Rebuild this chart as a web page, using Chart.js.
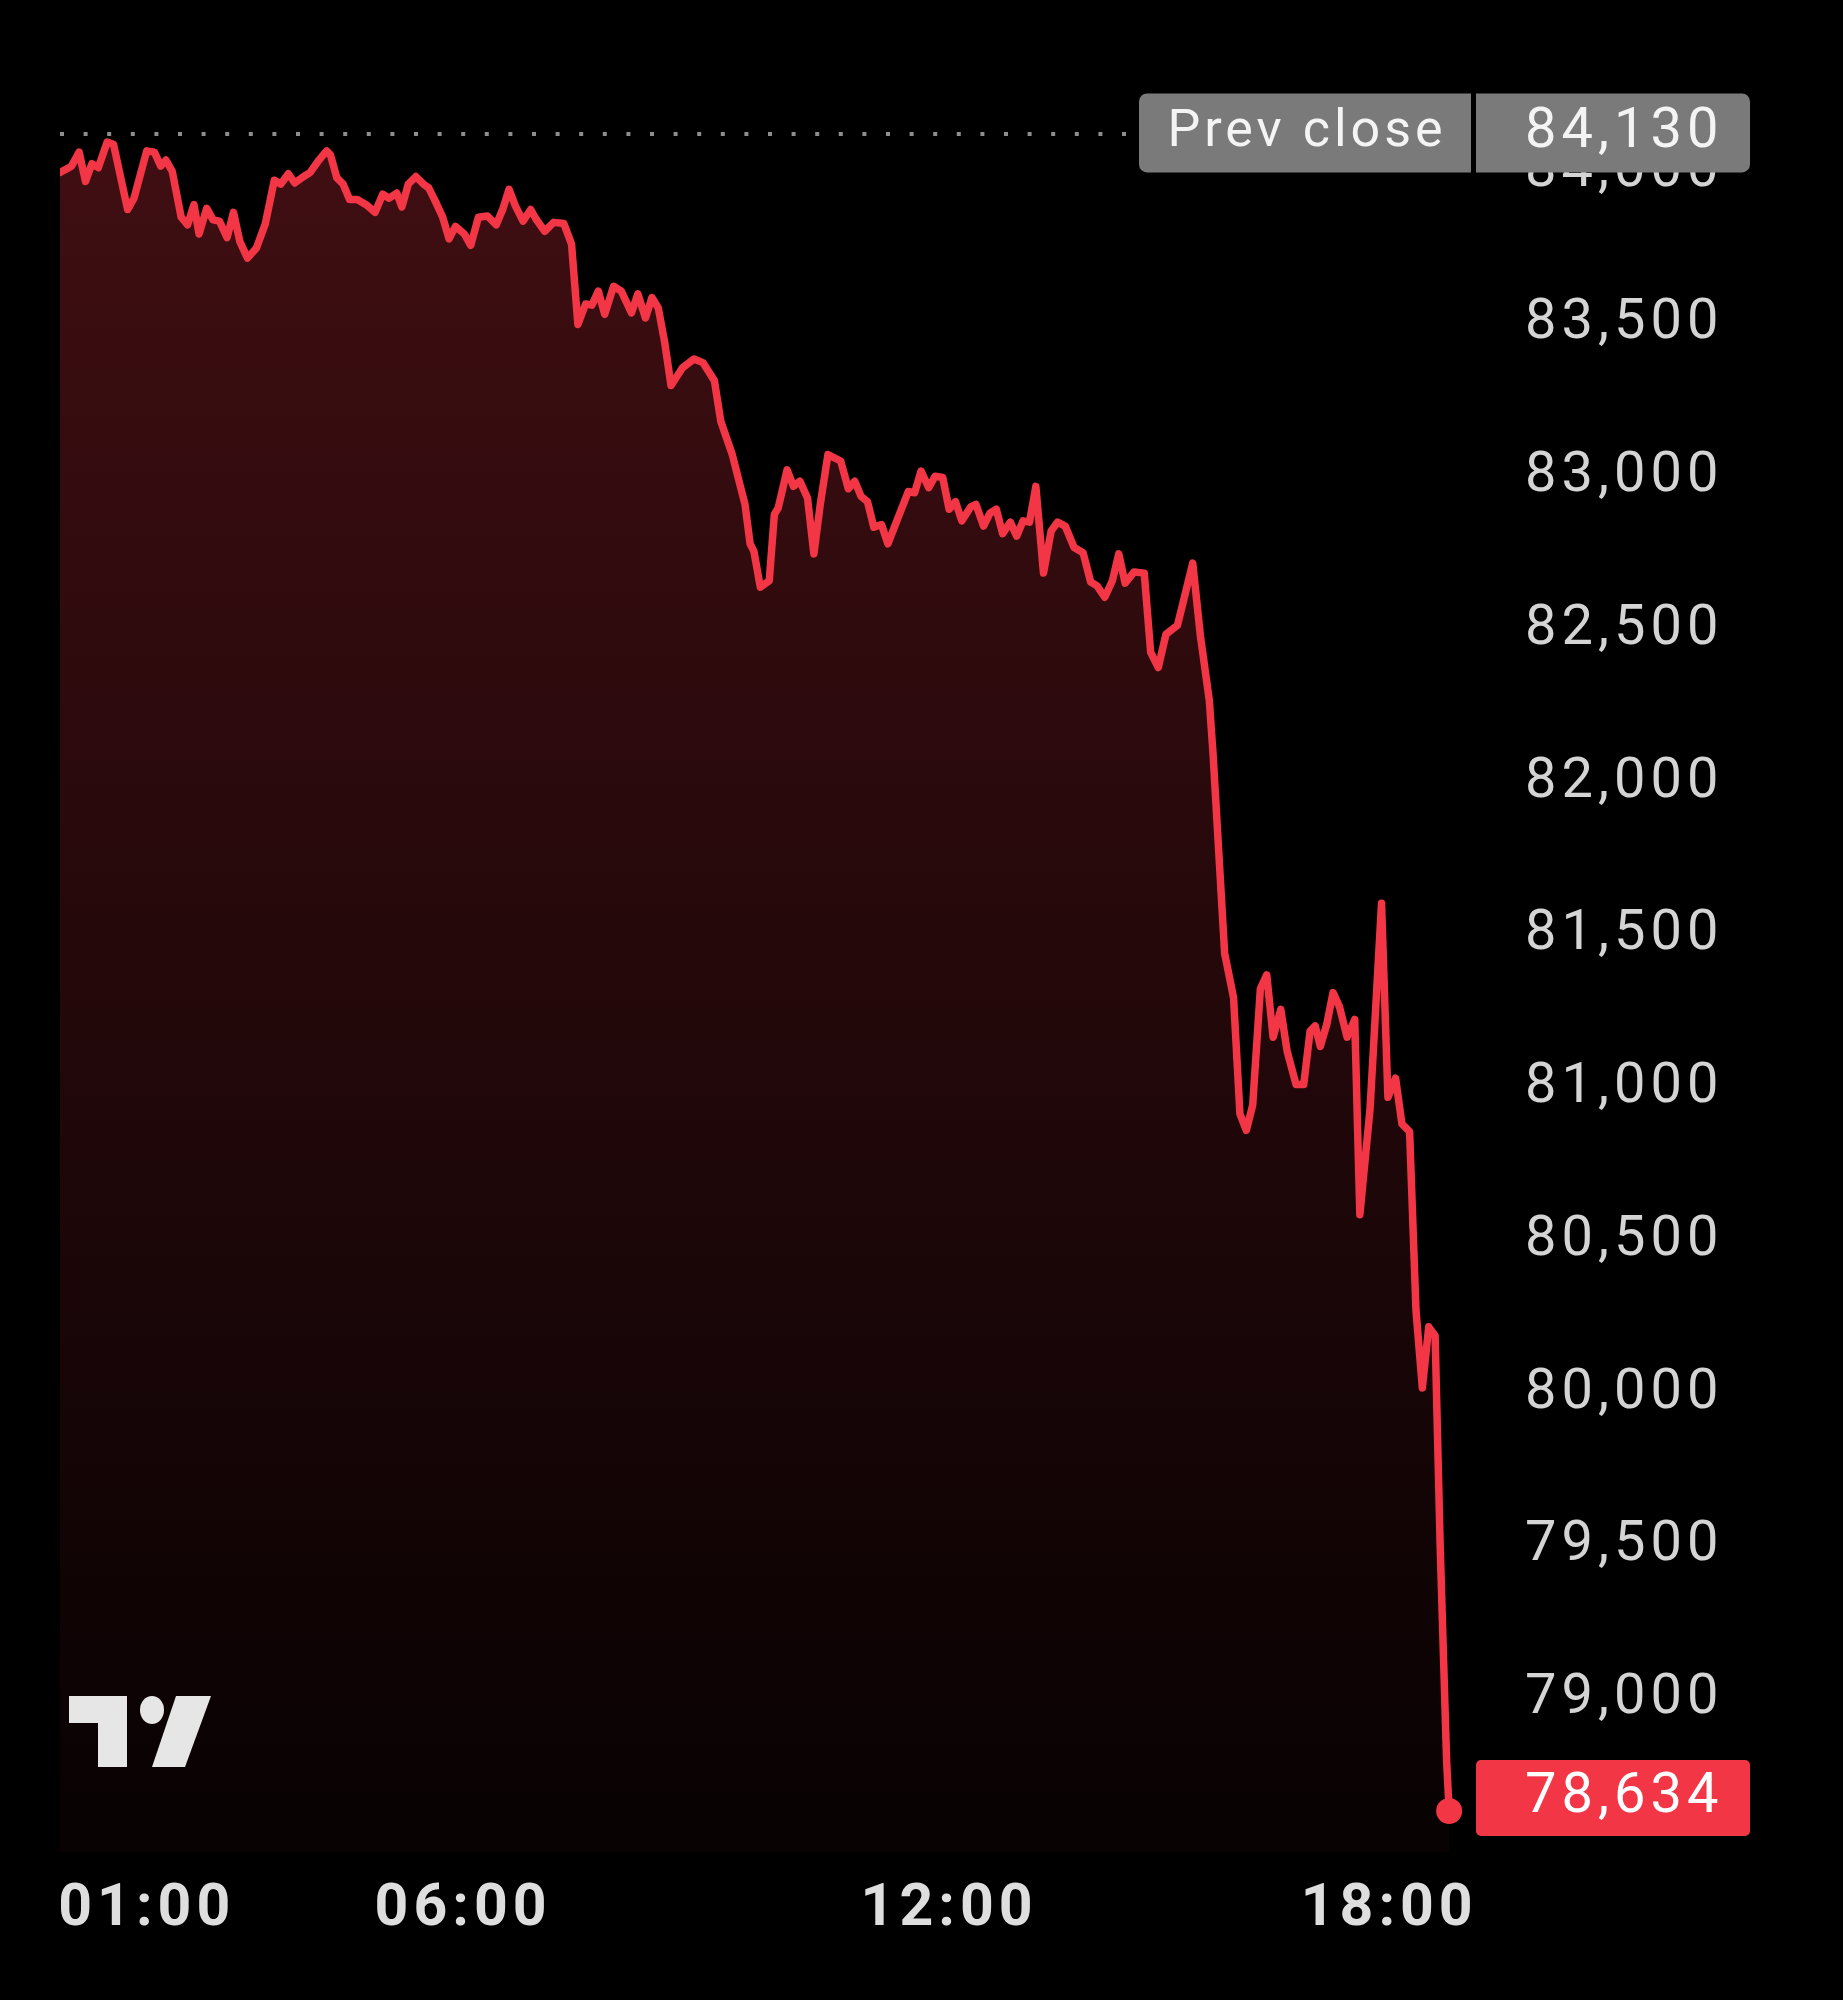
<!DOCTYPE html>
<html>
<head>
<meta charset="utf-8">
<title>Intraday price</title>
<script src="https://cdn.jsdelivr.net/npm/chart.js@4.4.1/dist/chart.umd.min.js"></script>
<style>
  html, body { margin: 0; padding: 0; background: #000; }
  #wrap { width: 1843px; height: 2000px; }
</style>
</head>
<body>
<div id="wrap"><canvas id="priceChart" width="1843" height="2000"></canvas></div>
<script>
// bar position on the time scale (index) and price of each traced vertex
const bars = [
  0, 9, 15, 20, 25, 30, 37, 42, 53, 58, 68, 74, 79, 83, 88, 95, 100, 105, 109, 115,
  120, 125, 131, 136, 141, 147, 154, 161, 168, 173, 179, 184, 191, 196, 203, 209, 212, 217, 222, 227,
  233, 240, 247, 253, 258, 264, 268, 273, 279, 285, 289, 294, 300, 305, 310, 317, 322, 328, 335, 342,
  347, 352, 357, 363, 369, 373, 380, 387, 395, 401, 406, 412, 417, 422, 427, 434, 440, 448, 453, 459,
  464, 469, 474, 479, 488, 497, 504, 513, 518, 527, 537, 541, 544, 549, 556, 560, 563, 570, 575, 580,
  586, 591, 596, 602, 612, 618, 623, 628, 633, 638, 644, 649, 656, 665, 670, 675, 681, 686, 692, 697,
  702, 707, 714, 718, 724, 729, 734, 739, 745, 750, 755, 760, 765, 771, 777, 782, 788, 795, 802, 808,
  813, 819, 825, 830, 835, 842, 850, 855, 861, 867, 876, 888, 894, 901, 904, 913, 920, 925, 930, 935,
  941, 946, 951, 957, 962, 969, 975, 980, 984, 988, 993, 998, 1003, 1009, 1015, 1019, 1027, 1036, 1041, 1047,
  1052, 1058, 1063, 1068, 1073, 1078, 1082, 1087, 1089
];
const prices = [
  83997, 84018, 84064, 83968, 84026, 84013, 84097, 84089, 83876, 83913, 84068, 84064, 84018, 84038, 84001, 83851, 83826, 83892, 83796, 83880,
  83842, 83838, 83784, 83867, 83771, 83717, 83750, 83830, 83972, 83959, 83993, 83963, 83984, 83997, 84038, 84068, 84055, 83980, 83959, 83909,
  83909, 83892, 83867, 83926, 83913, 83930, 83884, 83959, 83984, 83959, 83947, 83905, 83851, 83780, 83821, 83796, 83759, 83851, 83855, 83826,
  83876, 83942, 83888, 83838, 83876, 83846, 83805, 83834, 83830, 83763, 83500, 83567, 83563, 83609, 83533, 83625, 83609, 83538, 83600, 83521,
  83588, 83554, 83442, 83300, 83358, 83387, 83375, 83316, 83183, 83074, 82911, 82782, 82757, 82640, 82661, 82878, 82899, 83024, 82970, 82987,
  82932, 82749, 82911, 83074, 83053, 82962, 82987, 82937, 82920, 82836, 82845, 82782, 82857, 82953, 82949, 83020, 82966, 83003, 82999, 82895,
  82920, 82857, 82903, 82911, 82840, 82882, 82895, 82815, 82853, 82807, 82857, 82853, 82970, 82686, 82824, 82853, 82840, 82770, 82753, 82657,
  82644, 82607, 82661, 82749, 82653, 82690, 82686, 82427, 82377, 82486, 82515, 82719, 82481, 82269, 82089, 81442, 81296, 80916, 80862, 80945,
  81325, 81371, 81167, 81258, 81121, 81012, 81012, 81187, 81204, 81137, 81208, 81313, 81267, 81167, 81225, 80586, 80933, 81605, 80970, 81033,
  80883, 80858, 80273, 80019, 80219, 80190, 79497, 78800, 78634
];

const prevClose = 84130;
const lastPrice = 78634;

const yTicks = [79000, 79500, 80000, 80500, 81000, 81500, 82000, 82500, 83000, 83500, 84000];
const xTickPos = [68, 316, 697, 1042];
const xTickLabels = ['01:00', '06:00', '12:00', '18:00'];

const red = '#f23645';
const fmt = v => v.toLocaleString('en-US');

function areaFill(context) {
  const { ctx, chartArea } = context.chart;
  if (!chartArea) return null;
  const g = ctx.createLinearGradient(0, chartArea.top, 0, chartArea.bottom);
  g.addColorStop(0, 'rgba(242, 54, 69, 0.27)');
  g.addColorStop(1, 'rgba(242, 54, 69, 0.03)');
  return g;
}

// prev close line, price badges and the logo
const overlay = {
  id: 'overlay',
  beforeDraw(chart) {
    chart.ctx.letterSpacing = '5px';
  },
  afterDatasetsDraw(chart) {
    const { ctx, chartArea, scales } = chart;
    const y = Math.round(scales.y.getPixelForValue(prevClose)) + 2;
    ctx.save();
    ctx.strokeStyle = '#8e8e8e';
    ctx.lineWidth = 4;
    ctx.setLineDash([4, 19.6]);
    ctx.beginPath();
    ctx.moveTo(chartArea.left, y);
    ctx.lineTo(chartArea.right - 340, y);
    ctx.stroke();
    ctx.restore();
  },
  afterDraw(chart) {
    const { ctx, chartArea, scales } = chart;
    const r = chartArea.right;
    ctx.save();

    // Prev close badge
    const py = scales.y.getPixelForValue(prevClose) + 1;
    ctx.fillStyle = '#7a7a7a';
    ctx.beginPath();
    ctx.roundRect(r - 328, py - 39.5, 332, 79, [8, 0, 0, 8]);
    ctx.fill();
    ctx.beginPath();
    ctx.roundRect(r + 9, py - 39.5, 274, 79, [0, 8, 8, 0]);
    ctx.fill();
    ctx.fillStyle = '#f4f4f4';
    ctx.textBaseline = 'middle';
    ctx.textAlign = 'center';
    ctx.letterSpacing = '4px';
    ctx.font = '400 52px Roboto';
    ctx.fillText('Prev close', r - 160, py);
    ctx.textAlign = 'left';
    ctx.letterSpacing = '5px';
    ctx.font = '400 56px Roboto';
    ctx.fillText(fmt(prevClose), r + 58, py);

    // last price badge
    const ly = scales.y.getPixelForValue(lastPrice) - 13;
    ctx.fillStyle = red;
    ctx.beginPath();
    ctx.roundRect(r + 9, ly - 38, 274, 76, 5);
    ctx.fill();
    ctx.fillStyle = '#ffffff';
    ctx.fillText(fmt(lastPrice), r + 58, ly);

    // logo
    const lx = chartArea.left + 9, lt = chartArea.bottom - 156;
    ctx.fillStyle = '#e6e6e6';
    ctx.fillRect(lx, lt, 58, 27);
    ctx.fillRect(lx + 29, lt, 29, 71);
    ctx.beginPath();
    ctx.ellipse(lx + 83, lt + 14, 12, 14, 0, 0, Math.PI * 2);
    ctx.fill();
    ctx.beginPath();
    ctx.moveTo(lx + 107, lt);
    ctx.lineTo(lx + 142, lt);
    ctx.lineTo(lx + 116, lt + 71);
    ctx.lineTo(lx + 83, lt + 71);
    ctx.closePath();
    ctx.fill();
    ctx.restore();
  }
};

new Chart(document.getElementById('priceChart'), {
  type: 'line',
  data: {
    datasets: [{
      data: bars.map((b, i) => ({ x: b, y: prices[i] })),
      borderColor: red,
      borderWidth: 7.5,
      borderJoinStyle: 'round',
      borderCapStyle: 'round',
      fill: 'start',
      backgroundColor: areaFill,
      pointRadius: ctx => ctx.dataIndex === bars.length - 1 ? 13 : 0,
      pointBackgroundColor: red,
      pointBorderWidth: 0,
      tension: 0
    }]
  },
  options: {
    responsive: false,
    animation: false,
    layout: { padding: { left: 60, top: 80, right: 0, bottom: 0 } },
    plugins: { legend: { display: false }, tooltip: { enabled: false } },
    scales: {
      x: {
        type: 'linear',
        min: 0,
        max: 1103,
        grid: { display: false, drawTicks: false },
        border: { display: false },
        afterBuildTicks: s => { s.ticks = xTickPos.map(v => ({ value: v })); },
        afterFit: s => { s.height = 148; s.paddingLeft = 0; s.paddingRight = 0; },
        ticks: {
          color: '#dedede',
          font: { family: 'Roboto', size: 59, weight: 700 },
          padding: 23,
          maxRotation: 0,
          autoSkip: false,
          callback: (v, i) => xTickLabels[i]
        }
      },
      y: {
        position: 'right',
        min: 78500,
        max: 84300,
        grid: { display: false, drawTicks: false },
        border: { display: false },
        afterBuildTicks: s => { s.ticks = yTicks.map(v => ({ value: v })); },
        afterFit: s => { s.width = 376; s.paddingTop = 0; s.paddingBottom = 0; },
        ticks: {
          color: '#d4d4d4',
          font: { family: 'Roboto', size: 56, weight: 400 },
          padding: 58,
          crossAlign: 'near',
          callback: v => fmt(v)
        }
      }
    }
  },
  plugins: [overlay]
});
</script>
</body>
</html>
